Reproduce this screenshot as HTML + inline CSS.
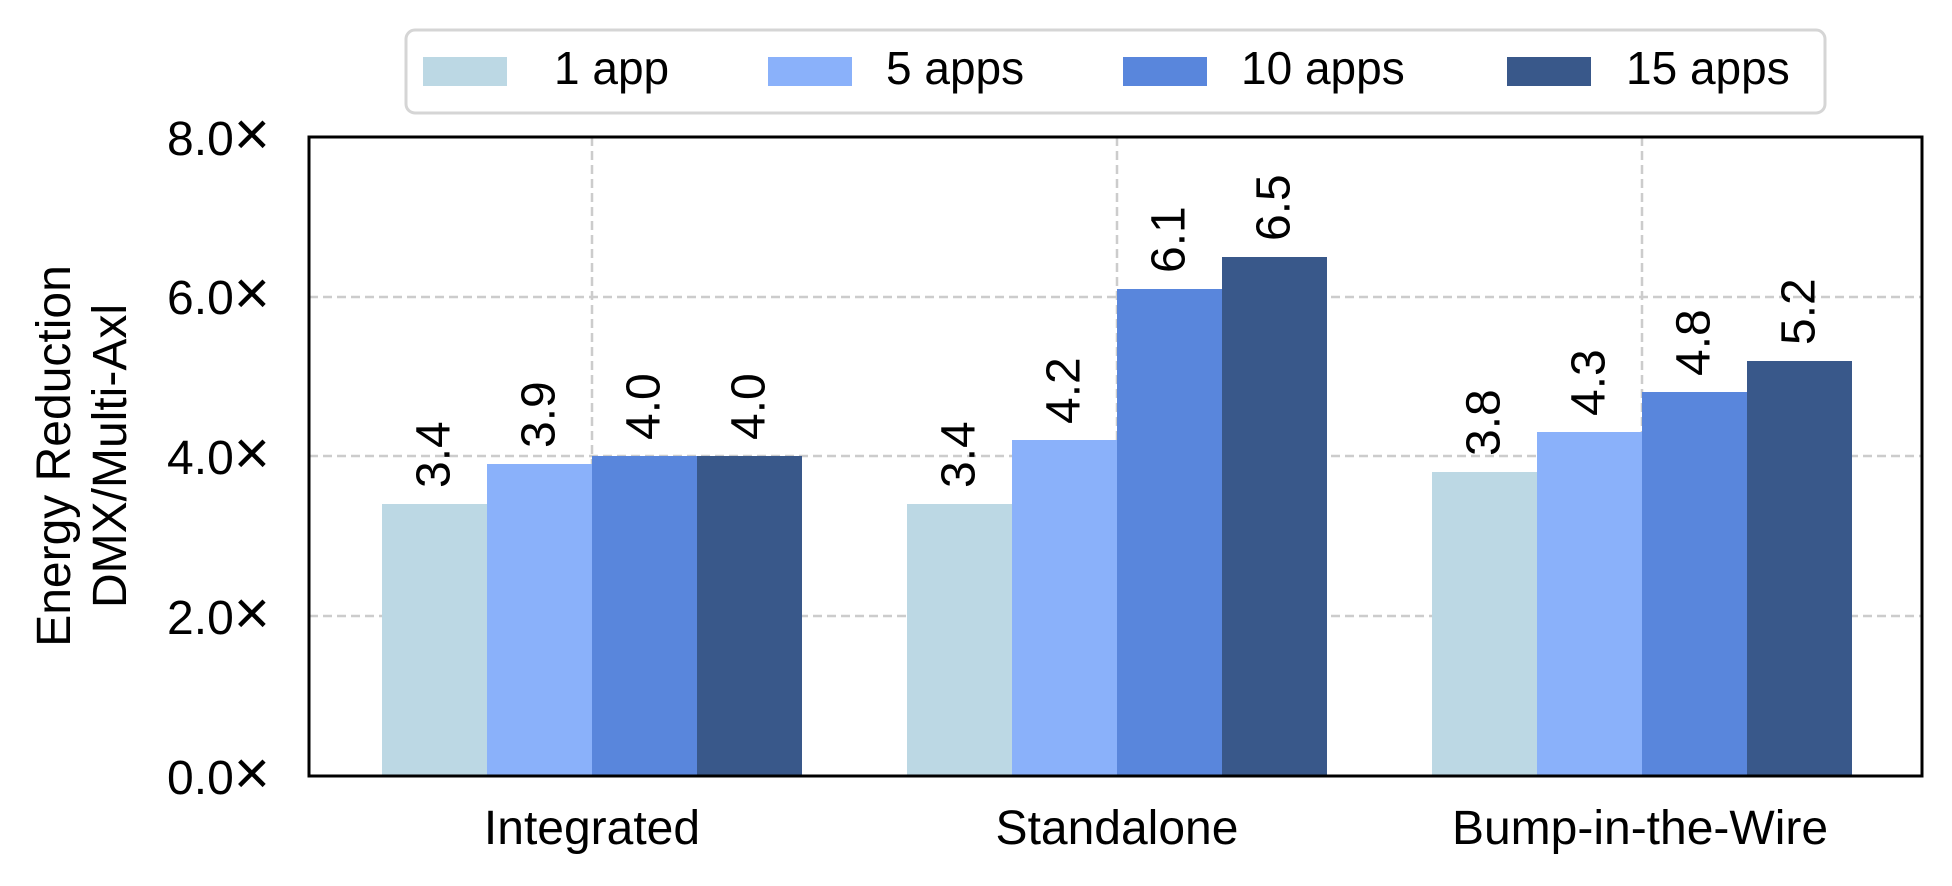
<!DOCTYPE html>
<html><head><meta charset="utf-8"><style>html,body{margin:0;padding:0;background:#fff}svg{display:block}</style></head>
<body>
<svg width="1952" height="886" viewBox="0 0 1952 886" xmlns="http://www.w3.org/2000/svg" font-family="Liberation Sans, DejaVu Sans, sans-serif">
<g stroke="#cccccc" stroke-width="2.5" stroke-dasharray="9,5">
<line x1="309" y1="616" x2="1922" y2="616"/>
<line x1="309" y1="456" x2="1922" y2="456"/>
<line x1="309" y1="297" x2="1922" y2="297"/>
<line x1="592" y1="137" x2="592" y2="776"/>
<line x1="1117" y1="137" x2="1117" y2="776"/>
<line x1="1642" y1="137" x2="1642" y2="776"/>
</g>
<g>
<rect x="382" y="504" width="105" height="272" fill="#bcd8e4"/>
<rect x="487" y="464" width="105" height="312" fill="#8ab1fa"/>
<rect x="592" y="456" width="105" height="320" fill="#5986dc"/>
<rect x="697" y="456" width="105" height="320" fill="#39588a"/>
<rect x="907" y="504" width="105" height="272" fill="#bcd8e4"/>
<rect x="1012" y="440" width="105" height="336" fill="#8ab1fa"/>
<rect x="1117" y="289" width="105" height="487" fill="#5986dc"/>
<rect x="1222" y="257" width="105" height="519" fill="#39588a"/>
<rect x="1432" y="472" width="105" height="304" fill="#bcd8e4"/>
<rect x="1537" y="432" width="105" height="344" fill="#8ab1fa"/>
<rect x="1642" y="392" width="105" height="384" fill="#5986dc"/>
<rect x="1747" y="361" width="105" height="415" fill="#39588a"/>
</g>
<g font-size="48" fill="#000" dominant-baseline="central">
<text transform="translate(434,488) rotate(-90)">3.4</text>
<text transform="translate(539,448) rotate(-90)">3.9</text>
<text transform="translate(644,440) rotate(-90)">4.0</text>
<text transform="translate(749,440) rotate(-90)">4.0</text>
<text transform="translate(959,488) rotate(-90)">3.4</text>
<text transform="translate(1064,424) rotate(-90)">4.2</text>
<text transform="translate(1169,273) rotate(-90)">6.1</text>
<text transform="translate(1274,241) rotate(-90)">6.5</text>
<text transform="translate(1484,456) rotate(-90)">3.8</text>
<text transform="translate(1589,416) rotate(-90)">4.3</text>
<text transform="translate(1694,376) rotate(-90)">4.8</text>
<text transform="translate(1799,345) rotate(-90)">5.2</text>
</g>
<rect x="309" y="137" width="1613" height="639" fill="none" stroke="#000" stroke-width="3"/>
<g font-size="48" text-anchor="end" fill="#000">
<text x="270" y="155">8.0<tspan font-size="62">×</tspan></text>
<text x="270" y="314">6.0<tspan font-size="62">×</tspan></text>
<text x="270" y="474">4.0<tspan font-size="62">×</tspan></text>
<text x="270" y="634">2.0<tspan font-size="62">×</tspan></text>
<text x="270" y="794">0.0<tspan font-size="62">×</tspan></text>
</g>
<g font-size="48" text-anchor="middle" fill="#000">
<text transform="translate(70,456) rotate(-90)">Energy Reduction</text>
<text transform="translate(126,456) rotate(-90)">DMX/Multi-Axl</text>
</g>
<g font-size="48" text-anchor="middle" fill="#000">
<text x="592" y="844">Integrated</text>
<text x="1117" y="844">Standalone</text>
<text x="1640" y="844">Bump-in-the-Wire</text>
</g>
<rect x="406" y="30" width="1419" height="83" rx="9" ry="9" fill="#fff" stroke="#d5d5d5" stroke-width="3"/>
<rect x="423" y="57" width="84" height="29" fill="#bcd8e4"/>
<rect x="768" y="57" width="84" height="29" fill="#8ab1fa"/>
<rect x="1123" y="57" width="84" height="29" fill="#5986dc"/>
<rect x="1507" y="57" width="84" height="29" fill="#39588a"/>
<g font-size="46" fill="#000">
<text x="554" y="84">1 app</text>
<text x="886" y="84">5 apps</text>
<text x="1241" y="84">10 apps</text>
<text x="1626" y="84">15 apps</text>
</g>
</svg>
</body></html>
